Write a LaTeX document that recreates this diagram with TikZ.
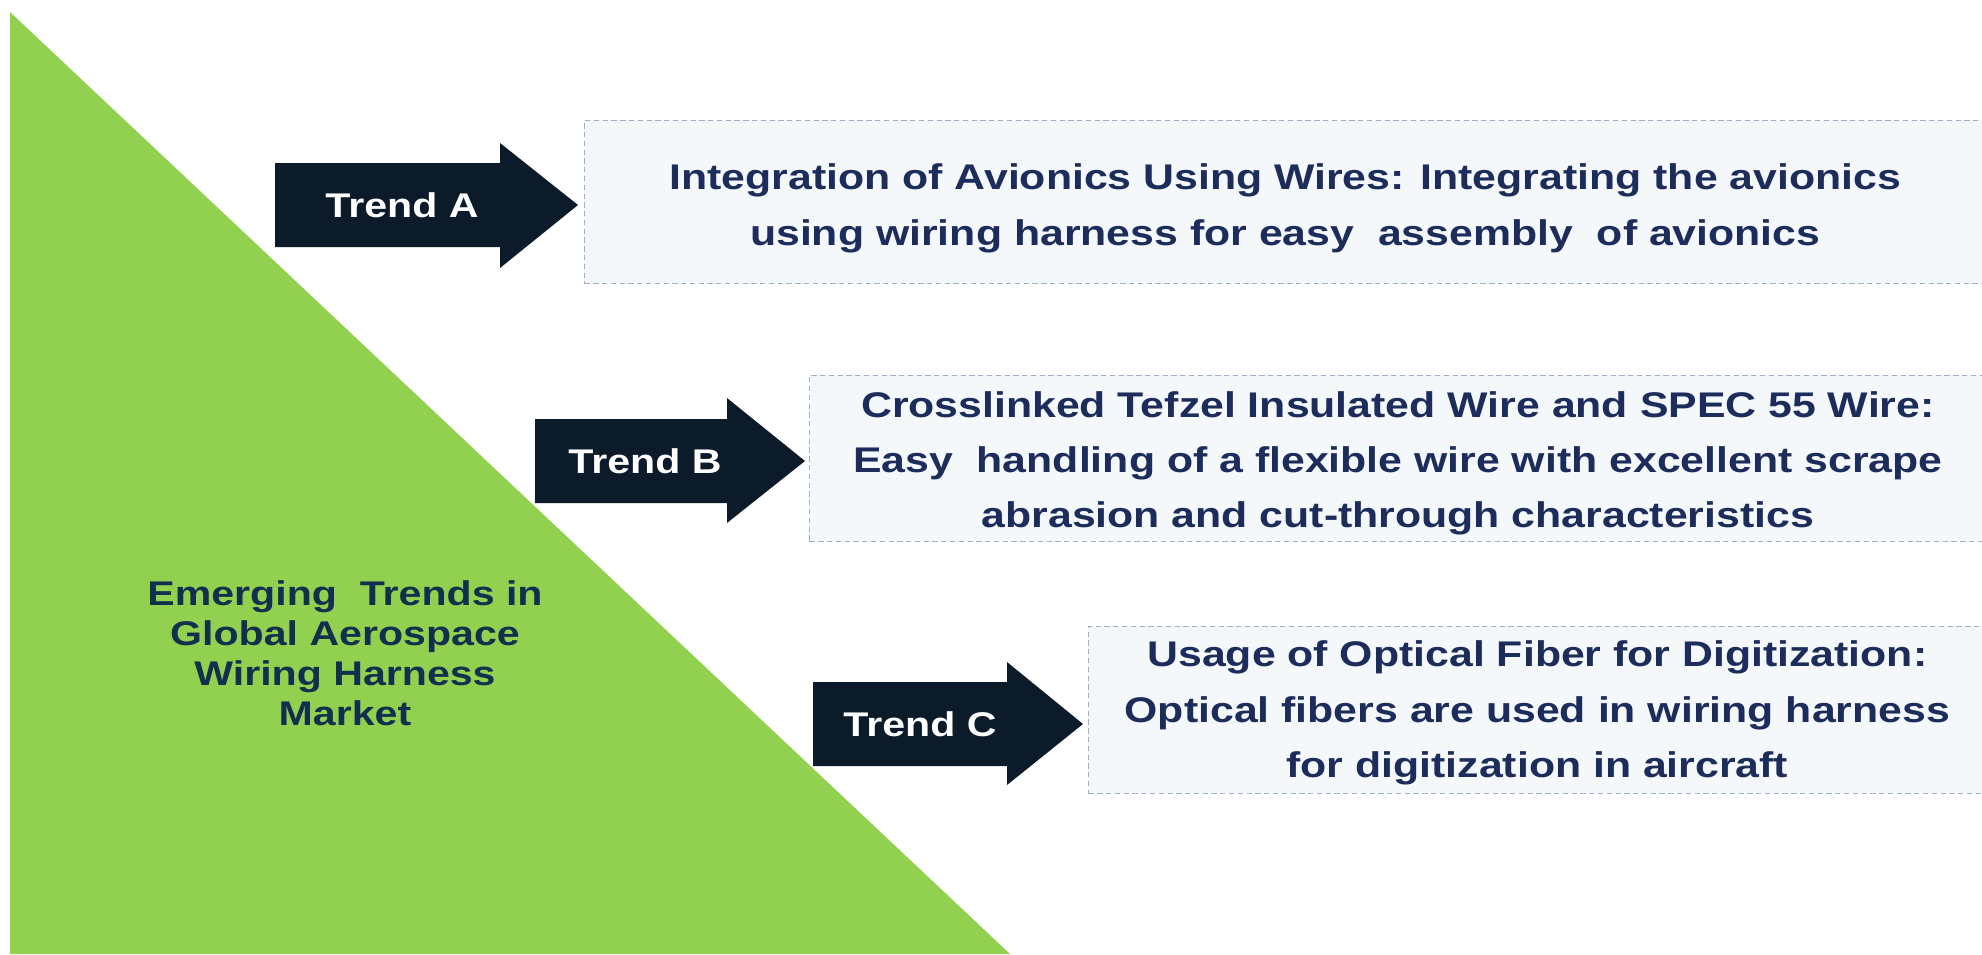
\documentclass[tikz,border=0pt]{standalone}
\usepackage{fontspec}
\setmainfont[FakeStretch=1.2]{Liberation Sans}
\definecolor{trendgreen}{HTML}{92D050}
\definecolor{trendnavy}{HTML}{0C1B2A}
\definecolor{textnavy}{HTML}{1C2D5C}
\definecolor{titlenavy}{HTML}{12304E}
\definecolor{boxfill}{HTML}{F5F8FB}
\definecolor{boxline}{HTML}{9FB0C5}
\tikzset{
  trendarrow/.style={fill=trendnavy},
  trendlabel/.style={text=white,font=\bfseries\fontsize{19.5}{22}\selectfont},
  titletext/.style={text=titlenavy,align=center,font=\bfseries\fontsize{19.5}{22.8}\selectfont},
  infobox/.style={draw=boxline,fill=boxfill,dash pattern=on 3pt off 2pt,line width=0.5pt,anchor=north west},
  infotext/.style={align=center,text=textnavy,font=\bfseries\fontsize{20.3}{31.5}\selectfont}
}

\begin{document}
\begin{tikzpicture}[x=0.02cm,y=0.02cm]
\useasboundingbox[fill=white] (0,0) rectangle (1982,-954);
\coordinate (T1) at (10,-12);
\coordinate (T2) at (10,-954);
\coordinate (T3) at (1010,-954);
\fill[trendgreen] (T1)--(T2)--(T3)--cycle;
\node[titletext] (title) at (345,-653) {Emerging\ \ Trends in\\Global Aerospace\\Wiring Harness\\Market};

\fill[trendarrow] (275,-163)--(500,-163)--(500,-143)--(578,-205)--(500,-268)--(500,-247)--(275,-247)--cycle;
\fill[trendarrow] (535,-419)--(727,-419)--(727,-398)--(805,-461)--(727,-523)--(727,-503)--(535,-503)--cycle;
\fill[trendarrow] (813,-682)--(1007,-682)--(1007,-662)--(1083,-724)--(1007,-785)--(1007,-766)--(813,-766)--cycle;
\node[trendlabel] (lblA) at (402,-205) {Trend A};
\node[trendlabel] (lblB) at (645,-461) {Trend B};
\node[trendlabel] (lblC) at (920,-724) {Trend C};

\node[infobox,minimum width=28.04cm,minimum height=3.26cm] (boxA) at (584,-120) {};
\node[infobox,minimum width=23.54cm,minimum height=3.32cm] (boxB) at (809,-375) {};
\node[infobox,minimum width=17.96cm,minimum height=3.34cm] (boxC) at (1088,-626) {};
\node[infotext] (txtA) at ([yshift=-0.13cm]boxA.center)
  {Integration of Avionics Using Wires: Integrating the avionics\\using wiring harness for easy\ \ assembly\ \ of avionics};
\node[infotext] (txtB) at ([yshift=-0.1cm]boxB.center)
  {Crosslinked Tefzel Insulated Wire and SPEC 55 Wire:\\Easy\ \ handling of a flexible wire with excellent scrape\\abrasion and cut-through characteristics};
\node[infotext] (txtC) at ([yshift=-0.06cm]boxC.center)
  {Usage of Optical Fiber for Digitization:\\Optical fibers are used in wiring harness\\for digitization in aircraft};
\end{tikzpicture}
\end{document}
